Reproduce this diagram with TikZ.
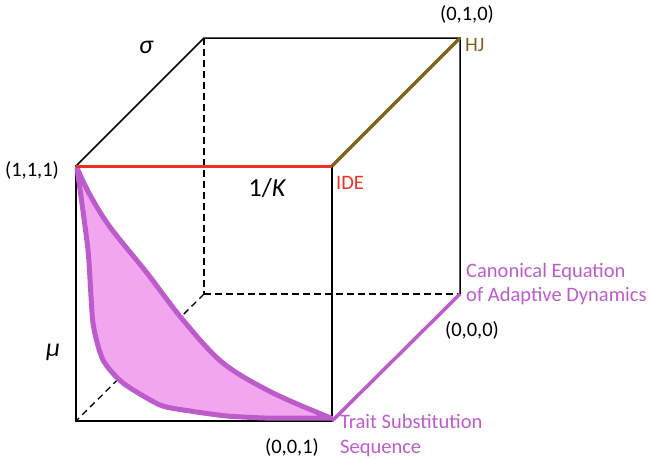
\documentclass[tikz,border=0pt]{standalone}
\usepackage{fontspec}
\setmainfont{Carlito}
\definecolor{purp}{HTML}{BC5CCB}
\definecolor{lilac}{HTML}{F1A6EF}
\definecolor{idered}{HTML}{EE3124}
\definecolor{hjbrown}{HTML}{7F6220}
\tikzset{
  edge/.style={line width=1.5pt,black,line cap=round},
  hidden/.style={line width=1.3pt,black,dash pattern=on 6.5pt off 4.5pt},
  lab/.style={inner sep=0pt,font=\fontsize{20.5}{24.5}\selectfont,text=black},
  collab/.style={lab,anchor=west,align=left},
  sym/.style={inner sep=0pt,font=\fontsize{26}{28}\selectfont\itshape}
}
\begin{document}
\begin{tikzpicture}[x=1pt,y=-1pt]
\useasboundingbox (0,0) rectangle (648,458);
\coordinate (ftl) at (76,166);
\coordinate (ftr) at (332,166);
\coordinate (fbl) at (76,421);
\coordinate (fbr) at (332,421);
\coordinate (btl) at (204,38);
\coordinate (btr) at (460,38);
\coordinate (bbl) at (204,294);
\coordinate (bbr) at (460,294);
% hidden edges
\draw[hidden] (btl) -- (bbl);
\draw[hidden] (bbl) -- (bbr);
\draw[hidden] (bbl) -- (fbl);
% visible edges
\draw[edge] (ftl) -- (btl) -- (btr) -- (bbr);
\draw[edge] (ftl) -- (fbl) -- (fbr) -- (ftr);
% surface
\draw[purp,line width=5pt,fill=lilac,line join=round]
  plot[smooth,tension=0.55] coordinates {(77,168) (90,195) (110,227) (147,273) (183,320) (223,363) (273,393) (331,418)}
  -- plot[smooth,tension=0.4] coordinates {(331,418) (300,418) (265,418) (227,416) (190,411) (160,405) (123,383) (103,360) (93,323) (88,250) (77,168)} -- cycle;
% coloured edges
\draw[idered,line width=3pt] (ftl) -- (ftr);
\draw[hjbrown,line width=3.5pt] (ftr) -- (btr);
\draw[purp,line width=3.5pt] (fbr) -- (bbr);
% labels
\node[lab] (n111) at (32,170) {(1,1,1)};
\node[lab] (n010) at (467,14) {(0,1,0)};
\node[lab] (n000) at (472,330) {(0,0,0)};
\node[lab] (n001) at (292,447) {(0,0,1)};
\node[collab,text=hjbrown] (hj) at (465,45) {HJ};
\node[collab,text=idered] (ide) at (336,183) {IDE};
\node[collab,text=purp,anchor=north west] (ced) at (466,263) {Canonical Equation\\of Adaptive Dynamics};
\node[collab,text=purp,anchor=north west] (tss) at (340,414.5) {Trait Substitution\\Sequence};
\node[sym] (sigma) at (146,47) {σ};
\node[sym] (mu) at (53,352) {μ};
\node[sym] (invk) at (267,188) {{\upshape 1/}K};
\end{tikzpicture}
\end{document}
